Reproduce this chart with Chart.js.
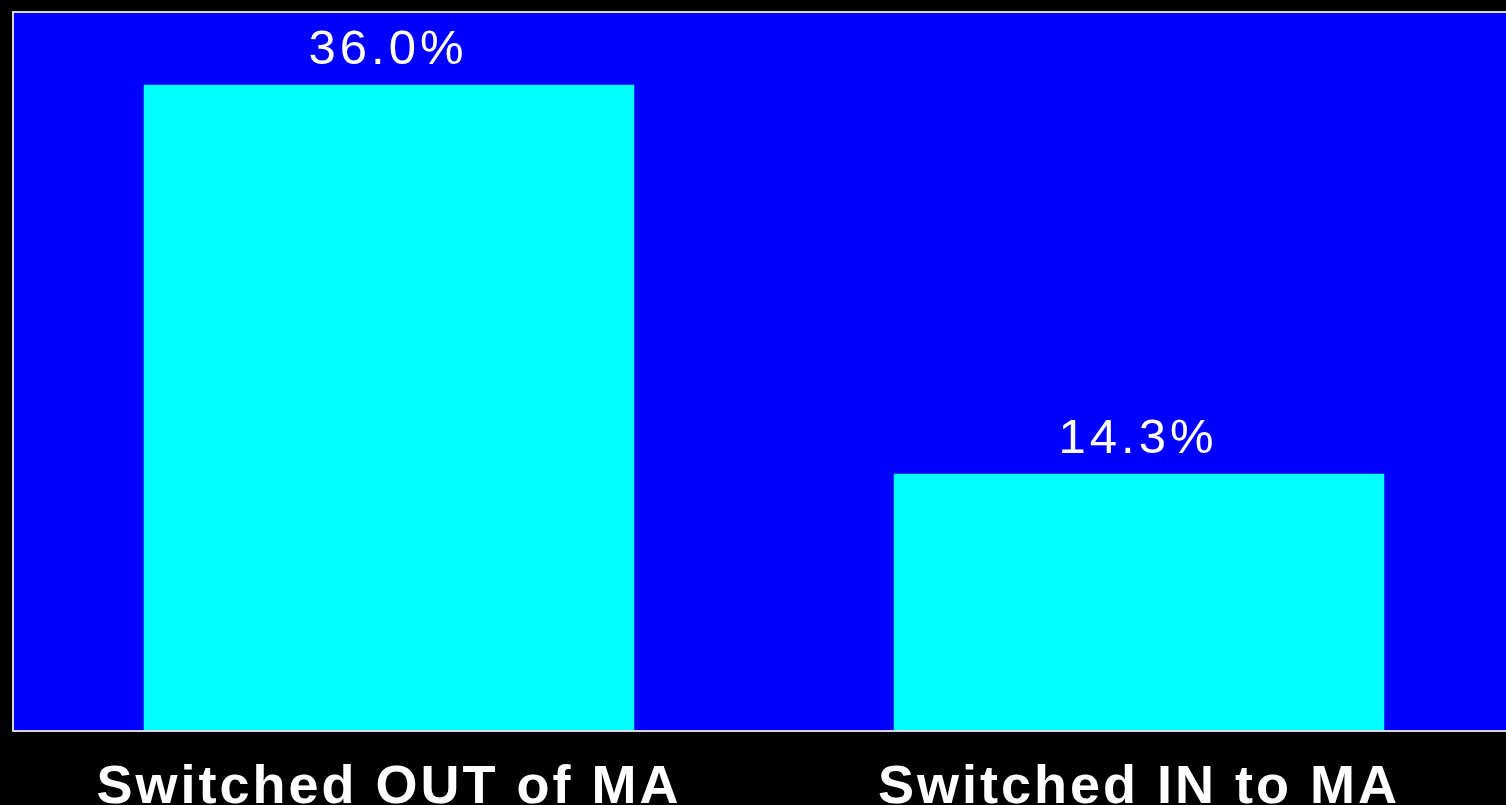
<!DOCTYPE html>
<html>
<head>
<meta charset="utf-8">
<script src="https://cdn.jsdelivr.net/npm/chart.js@4/dist/chart.umd.min.js"></script>
<style>
  html, body { margin: 0; padding: 0; background: #000; overflow: hidden; }
  #wrap { width: 1522px; height: 805px; }
</style>
</head>
<body>
<div id="wrap"><canvas id="c" width="1522" height="805"></canvas></div>
<script>
// Share of members who switched plans
const categories = ['Switched OUT of MA', 'Switched IN to MA'];
const shareValues = [36.0, 14.3];
const axisMax = 40;

// Blue plot panel with a light frame, drawn from the chart area
const panelPlugin = {
  id: 'panel',
  beforeDraw(chart) {
    const { ctx, chartArea: a } = chart;
    ctx.save();
    ctx.fillStyle = '#000000';
    ctx.fillRect(0, 0, chart.width, chart.height);
    ctx.fillStyle = '#0000FF';
    ctx.fillRect(a.left, a.top, a.right - a.left, a.bottom - a.top);
    ctx.restore();
    ctx.letterSpacing = '3px';
  },
  afterDatasetsDraw(chart) {
    const { ctx, chartArea: a } = chart;
    ctx.save();
    ctx.strokeStyle = '#D8D8E8';
    ctx.lineWidth = 2;
    ctx.strokeRect(a.left - 1, a.top - 1, a.right - a.left + 2, a.bottom - a.top + 2);
    ctx.restore();
  }
};

// Percentage label above each bar
const valueLabelPlugin = {
  id: 'valueLabels',
  afterDatasetsDraw(chart) {
    const { ctx } = chart;
    const meta = chart.getDatasetMeta(0);
    ctx.save();
    ctx.letterSpacing = '4px';
    ctx.font = '49px "Liberation Sans", Arial, sans-serif';
    ctx.fillStyle = '#FFFFFF';
    ctx.textAlign = 'center';
    ctx.textBaseline = 'alphabetic';
    meta.data.forEach((bar, i) => {
      const v = chart.data.datasets[0].data[i];
      ctx.fillText(v.toFixed(1) + '%', bar.x - 1, bar.y - 21);
    });
    ctx.restore();
  }
};

new Chart(document.getElementById('c'), {
  type: 'bar',
  data: {
    labels: categories,
    datasets: [{
      data: shareValues,
      backgroundColor: '#00FFFF',
      borderWidth: 0,
      barPercentage: 0.654,
      categoryPercentage: 1.0
    }]
  },
  options: {
    responsive: false,
    animation: false,
    events: [],
    layout: { padding: { left: 14, right: 8, top: 13, bottom: 0 } },
    plugins: { legend: { display: false }, tooltip: { enabled: false } },
    scales: {
      x: {
        grid: { display: false },
        border: { display: false },
        ticks: {
          color: '#FFFFFF',
          font: { family: '"Liberation Sans", Arial, sans-serif', size: 54, weight: 'bold' },
          padding: 18,
          maxRotation: 0,
          autoSkip: false
        },
        afterFit(scale) { scale.height = 75; }
      },
      y: {
        display: false,
        min: 0,
        max: axisMax
      }
    }
  },
  plugins: [panelPlugin, valueLabelPlugin]
});
</script>
</body>
</html>
